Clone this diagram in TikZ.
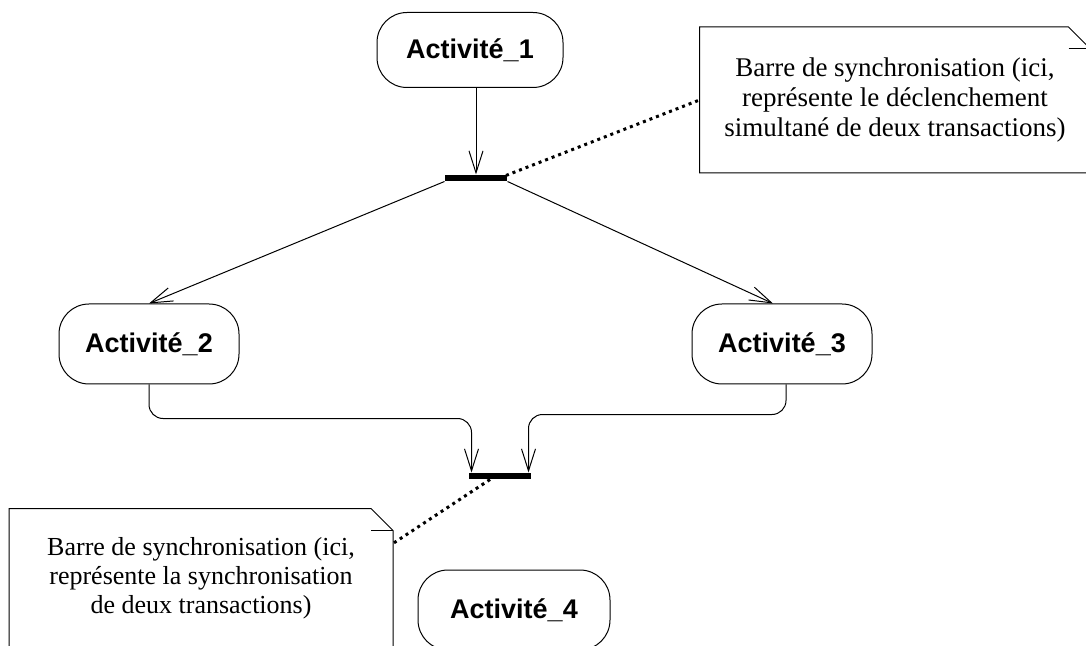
\documentclass[tikz,border=0pt]{standalone}
\usepackage{fontspec}
\setmainfont{Liberation Serif}
\newfontfamily\actfont{Liberation Sans}
\usetikzlibrary{arrows.meta,positioning,calc}

\begin{document}
\begin{tikzpicture}[x=0.5pt,y=-0.5pt,line width=0.5pt,
  act/.style={draw,rounded corners=15pt,minimum width=90pt,minimum height=40pt,inner sep=0pt,
    font=\actfont\bfseries\fontsize{13.5}{16}\selectfont},
  bar/.style={fill=black,minimum width=31pt,minimum height=3pt,inner sep=0pt},
  nt/.style={align=center,inner sep=0pt,font=\fontsize{13.5}{15}\selectfont},
  fl/.style={-{Straight Barb[length=11pt,width=7pt]}},
  lk/.style={line width=1.5pt,dash pattern=on 1.5pt off 2pt}]
\useasboundingbox (0,0) rectangle (1086,646);

% activities
\node[act,minimum width=93pt,minimum height=37.5pt] (a1) at (470,50) {Activité\_1};
\node[act] (a2) at (149,344) {Activité\_2};
\node[act] (a3) at (782,344) {Activité\_3};
\node[act,minimum width=96pt] (a4) at (514,610) {Activité\_4};

% synchronisation bars
\node[bar] (bar1) at (476,178) {};
\node[bar] (bar2) at (500,476) {};

% fork
\draw[fl] (a1.south -| bar1) -- (bar1.north);
\draw[fl] (bar1.south west) -- (a2.north);
\draw[fl] (bar1.south east) -- ($(a3.north)+(-9,0)$);

% join
\draw[fl,rounded corners=7pt] (a2.south) -- ++(0,34) -| ($(bar2.north west)+(3,0)$);
\draw[fl,rounded corners=7pt] ($(a3.south)+(4,0)$) -- ++(0,30) -| ($(bar2.north east)+(-3,0)$);

% notes
\node[nt,minimum width=195pt,minimum height=72.5pt] (n1) at (895,100)
  {Barre de synchronisation (ici,\\représente le déclenchement\\simultané de deux transactions)};
\draw (n1.north west) -- ($(n1.north east)+(-22,0)$) -- ($(n1.north east)+(0,22)$)
  -- (n1.south east) -- (n1.south west) -- cycle;
\draw ($(n1.north east)+(-22,22)$) -- ($(n1.north east)+(0,22)$);

\node[nt,font=\fontsize{13}{14.5}\selectfont,minimum width=191.5pt,minimum height=69pt] (n2) at (201,578)
  {Barre de synchronisation (ici,\\représente la synchronisation\\de deux transactions)};
\draw (n2.north west) -- ($(n2.north east)+(-22,0)$) -- ($(n2.north east)+(0,22)$)
  -- (n2.south east) -- (n2.south west) -- cycle;
\draw ($(n2.north east)+(-22,22)$) -- ($(n2.north east)+(0,22)$);

% links to the notes
\draw[lk] ($(bar1.east)+(-8,0)$) -- (n1.west);
\draw[lk] ($(bar2.south)+(-10,0)$) -- ($(n2.north east)+(0,35)$);
\end{tikzpicture}
\end{document}
